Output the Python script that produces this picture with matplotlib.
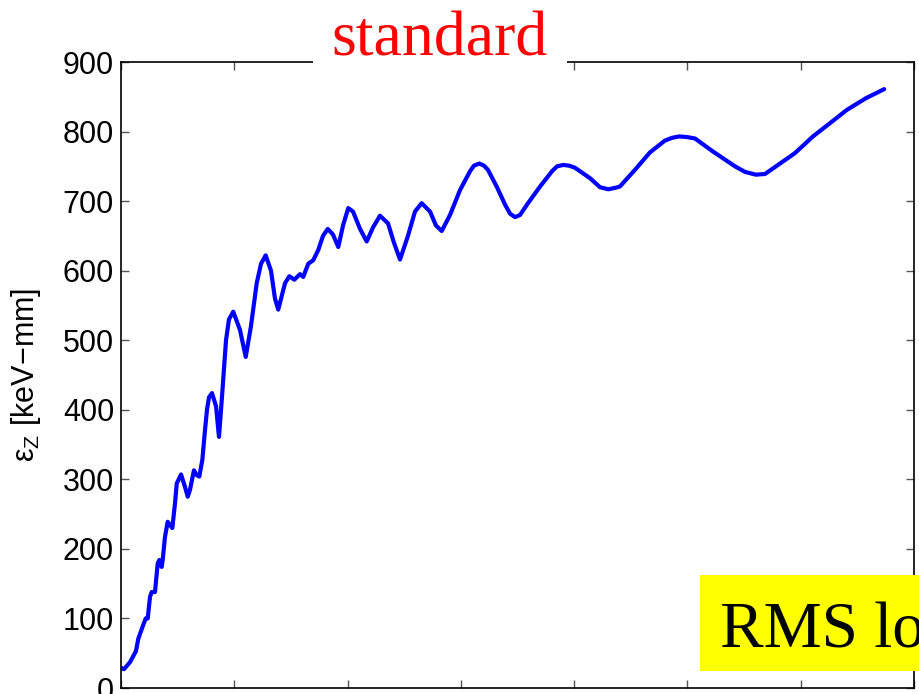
import numpy as np
import matplotlib
matplotlib.use('Agg')
import matplotlib.pyplot as plt
from matplotlib.patches import Rectangle

# emittance curve
z = [0.000, 0.026, 0.079, 0.132, 0.153, 0.197, 0.218, 0.236, 0.256, 0.271,
     0.300, 0.324, 0.338, 0.359, 0.368, 0.388, 0.412, 0.433, 0.453, 0.477,
     0.492, 0.530, 0.565, 0.589, 0.609, 0.644, 0.668, 0.691, 0.718, 0.741,
     0.759, 0.777, 0.803, 0.839, 0.865, 0.892, 0.927, 0.953, 0.991, 1.050,
     1.101, 1.147, 1.198, 1.236, 1.277, 1.324, 1.359, 1.388, 1.421, 1.448,
     1.486, 1.530, 1.580, 1.609, 1.653, 1.697, 1.742, 1.783, 1.825, 1.871,
     1.918, 1.960, 2.006, 2.048, 2.110, 2.169, 2.224, 2.286, 2.357, 2.410,
     2.463, 2.533, 2.595, 2.654, 2.728, 2.780, 2.831, 2.904, 2.993, 3.081,
     3.116, 3.163, 3.204, 3.239, 3.316, 3.390, 3.434, 3.478, 3.522, 3.584,
     3.699, 3.805, 3.849, 3.904, 3.954, 4.007, 4.140, 4.228, 4.301, 4.361,
     4.404, 4.537, 4.669, 4.801, 4.864, 4.928, 4.999, 5.067, 5.228, 5.420,
     5.508, 5.605, 5.685, 5.773, 5.949, 6.108, 6.258, 6.406, 6.576, 6.737]
eps = [29, 27, 37, 53, 71, 91, 100, 100, 131, 138,
       138, 179, 184, 174, 184, 217, 239, 234, 230, 266,
       294, 307, 289, 275, 285, 313, 306, 304, 328, 370,
       400, 418, 424, 405, 361, 420, 500, 530, 541, 515,
       476, 520, 582, 610, 622, 600, 560, 544, 565, 582,
       592, 587, 595, 591, 610, 615, 630, 650, 660, 652,
       634, 665, 690, 685, 660, 642, 662, 679, 668, 640,
       616, 650, 685, 697, 685, 665, 657, 680, 716, 743,
       751, 754, 751, 745, 721, 695, 682, 677, 680, 695,
       721, 743, 750, 752, 751, 748, 733, 720, 717, 719,
       721, 745, 770, 787, 791, 793, 792, 790, 771, 750,
       742, 738, 739, 749, 769, 793, 812, 831, 848, 861]

yticks = np.arange(0, 1000, 100)

fig = plt.figure(figsize=(9.19, 6.94), dpi=100)
ax = fig.add_axes([121/919, 6/694, 793/919, 626/694])

ax.plot(z, eps, color='blue', lw=3.0, solid_joinstyle='round',
        solid_capstyle='round')

ax.set_xlim(0, 7)
ax.set_ylim(0, 900)
ax.set_xticks(np.arange(0, 8, 1))
ax.set_yticks(yticks)
ax.set_xticklabels([])
ax.tick_params(direction='in', length=6, width=1, top=True, right=True,
               labelsize=22, pad=5, color='#555555')
for lab in ax.get_yticklabels():
    lab.set_family('Liberation Sans')
for s in ax.spines.values():
    s.set_linewidth(1.2)

ax.set_ylabel(r'$\mathregular{\epsilon_Z}$ [keV$\mathregular{-}$mm]', fontsize=22,
              family='Liberation Sans', labelpad=14)

fig.text(440/919, 1 - 55/694, 'standard', color='red', fontsize=46,
         family='Liberation Serif', ha='center', va='baseline',
         bbox=dict(facecolor='white', edgecolor='none', pad=14))

fig.patches.append(Rectangle((700/919, 1 - 671/694), 219/919, 96/694,
                             transform=fig.transFigure, facecolor='yellow',
                             edgecolor='none', zorder=5))
fig.text(720/919, 1 - 647/694, 'RMS lo', color='black', fontsize=47,
         family='Liberation Serif', ha='left', va='baseline', zorder=6)

fig.savefig('out.png', dpi=100)
